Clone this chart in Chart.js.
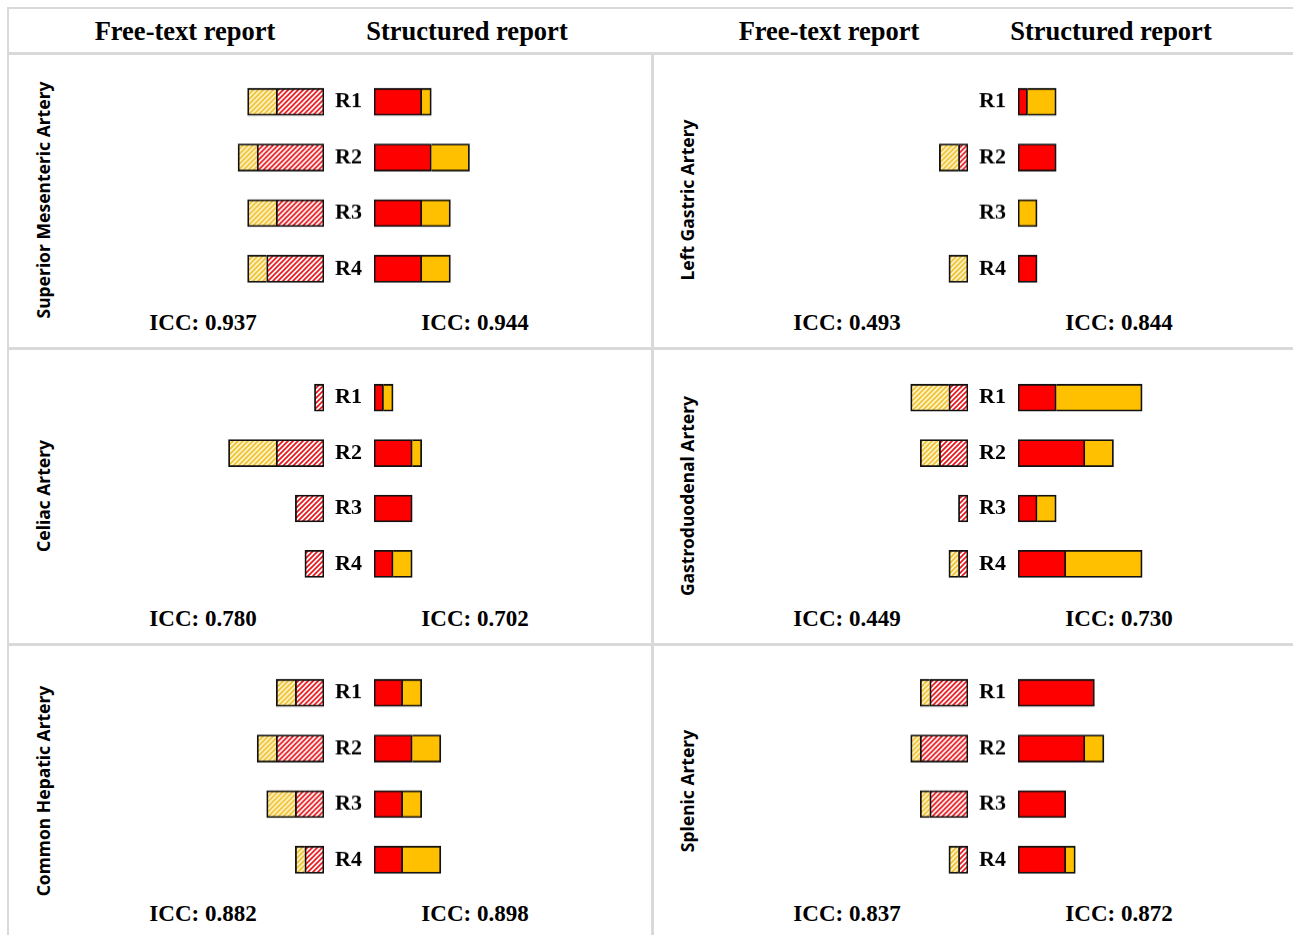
<!DOCTYPE html>
<html lang="en">
<head>
<meta charset="UTF-8" />
<title>Free-text vs structured report</title>
<script src="https://cdn.jsdelivr.net/npm/chart.js@4"></script>
<style>
  html, body { margin: 0; padding: 0; background: #fff; }
  #page { position: relative; width: 1293px; height: 935px; overflow: hidden; background: #fff; }
  .line { position: absolute; background: #d9d9d9; }
  .head, .icc { position: absolute; font-family: "Liberation Serif", "Times New Roman", serif; font-weight: bold; color: #000;
                transform: translate(-50%, -50%); white-space: nowrap; }
  .head { font-size: 26.5px; }
  .icc { font-size: 23px; }
  .artery { position: absolute; font-family: "Noto Sans", sans-serif; font-weight: bold; font-size: 17.5px; color: #000;
            white-space: nowrap; transform: translate(-50%, -50%) rotate(-90deg); }
  .box { position: absolute; }
</style>
</head>
<body>
<div id="page"></div>

<script>
  // data: counts per reader
  const arteries = ['Superior Mesenteric Artery', 'Left Gastric Artery', 'Celiac Artery',
                    'Gastroduodenal Artery', 'Common Hepatic Artery', 'Splenic Artery'];
  const readers = ['R1', 'R2', 'R3', 'R4'];

  // free-text report (hatched, drawn to the left)
  const freeRed    = [[5, 7, 5, 6], [0, 1, 0, 0], [1, 5, 3, 2], [2, 3, 1, 1], [3, 5, 3, 2], [4, 5, 4, 1]];
  const freeYellow = [[3, 2, 3, 2], [0, 2, 0, 2], [0, 5, 0, 0], [4, 2, 0, 1], [2, 2, 3, 1], [1, 1, 1, 1]];
  // structured report (solid, drawn to the right)
  const structRed    = [[5, 6, 5, 5], [1, 4, 0, 2], [1, 4, 4, 2], [4, 7, 2, 5], [3, 4, 3, 3], [8, 7, 5, 5]];
  const structOrange = [[1, 4, 3, 3], [3, 0, 2, 0], [1, 1, 0, 2], [9, 3, 2, 8], [2, 3, 2, 4], [0, 2, 0, 1]];

  const iccFree   = ['0.937', '0.493', '0.780', '0.449', '0.882', '0.837'];
  const iccStruct = ['0.944', '0.844', '0.702', '0.730', '0.898', '0.872'];

  // layout
  const UNIT = 9.55;            // px per count
  const colX = [8, 652];
  const rowY = [53, 348.5, 644];
  const page = document.getElementById('page');

  function add(cls, css, text) {
    const d = document.createElement('div');
    d.className = cls;
    Object.assign(d.style, css);
    if (text) d.textContent = text;
    page.appendChild(d);
    return d;
  }

  // table lines
  add('line', { left: '7px', top: '7px', width: '1290px', height: '2px' });
  add('line', { left: '7px', top: '7px', width: '2px', height: '930px' });
  add('line', { left: '7px', top: '52px', width: '1290px', height: '3px' });
  add('line', { left: '7px', top: '347px', width: '1290px', height: '3px' });
  add('line', { left: '7px', top: '643px', width: '1290px', height: '3px' });
  add('line', { left: '651px', top: '52px', width: '3px', height: '890px' });

  // header
  colX.forEach(x => {
    add('head', { left: (x + 177) + 'px', top: '31px' }, 'Free-text report');
    add('head', { left: (x + 459) + 'px', top: '31px' }, 'Structured report');
  });

  // diagonal stripe fill for the free-text bars
  function hatch(bg, fg) {
    const s = 5, c = document.createElement('canvas');
    c.width = c.height = s;
    const g = c.getContext('2d');
    g.fillStyle = bg;
    g.fillRect(0, 0, s, s);
    g.strokeStyle = fg;
    g.lineWidth = 1.7;
    g.beginPath();
    g.moveTo(0, s); g.lineTo(s, 0);
    g.moveTo(-s / 2, s / 2); g.lineTo(s / 2, -s / 2);
    g.moveTo(s / 2, s * 1.5); g.lineTo(s * 1.5, s / 2);
    g.stroke();
    return g.createPattern(c, 'repeat');
  }
  const redHatch = hatch('#ffffff', '#e8151b');
  const yellowHatch = hatch('#fff3c8', '#efc233');

  const nz = arr => arr.map(v => (v ? v : null));
  const skip = base => base.map(v => (v ? 'start' : false));

  function barChart(box, datasets, reverse, showLabels, plotW) {
    const canvas = document.createElement('canvas');
    box.appendChild(canvas);
    return new Chart(canvas, {
      type: 'bar',
      data: { labels: readers, datasets: datasets },
      options: {
        indexAxis: 'y',
        responsive: true,
        maintainAspectRatio: false,
        animation: false,
        layout: { padding: 0 },
        datasets: { bar: { barThickness: 27 } },
        plugins: { legend: { display: false }, tooltip: { enabled: false } },
        scales: {
          x: { stacked: true, reverse: reverse, min: 0, max: plotW / UNIT, display: false },
          y: {
            stacked: true,
            display: showLabels,
            grid: { display: false, drawTicks: false },
            border: { display: false },
            ticks: { padding: 12, color: '#000', font: { family: 'Liberation Serif', weight: 'bold', size: 22 } },
            afterFit: s => {
              s.width = showLabels ? 50 : 0;
              s.paddingTop = 0;
              s.paddingBottom = 0;
            }
          }
        }
      }
    });
  }

  arteries.forEach((name, i) => {
    const px = colX[i % 2], py = rowY[Math.floor(i / 2)];
    const top = py + 21.3, h = 221.6, plotW = 180;

    add('artery', { left: (px + 35) + 'px', top: (py + 147) + 'px' }, name);

    const left = add('box', { left: (px + 316 - plotW) + 'px', top: top + 'px', width: plotW + 'px', height: h + 'px' });
    barChart(left, [
      { label: 'Free-text red', data: nz(freeRed[i]), backgroundColor: redHatch,
        borderColor: '#111', borderWidth: 1.8, borderSkipped: false },
      { label: 'Free-text yellow', data: nz(freeYellow[i]), backgroundColor: yellowHatch,
        borderColor: '#111', borderWidth: 1.8, borderSkipped: skip(freeRed[i]) }
    ], true, false, plotW);

    const right = add('box', { left: (px + 316) + 'px', top: top + 'px', width: (plotW + 50) + 'px', height: h + 'px' });
    barChart(right, [
      { label: 'Structured red', data: nz(structRed[i]), backgroundColor: '#ff0000',
        borderColor: '#111', borderWidth: 1.8, borderSkipped: false },
      { label: 'Structured orange', data: nz(structOrange[i]), backgroundColor: '#ffc000',
        borderColor: '#111', borderWidth: 1.8, borderSkipped: skip(structRed[i]) }
    ], false, true, plotW);

    add('icc', { left: (px + 195) + 'px', top: (py + 270) + 'px' }, 'ICC: ' + iccFree[i]);
    add('icc', { left: (px + 467) + 'px', top: (py + 270) + 'px' }, 'ICC: ' + iccStruct[i]);
  });
</script>
</body>
</html>
